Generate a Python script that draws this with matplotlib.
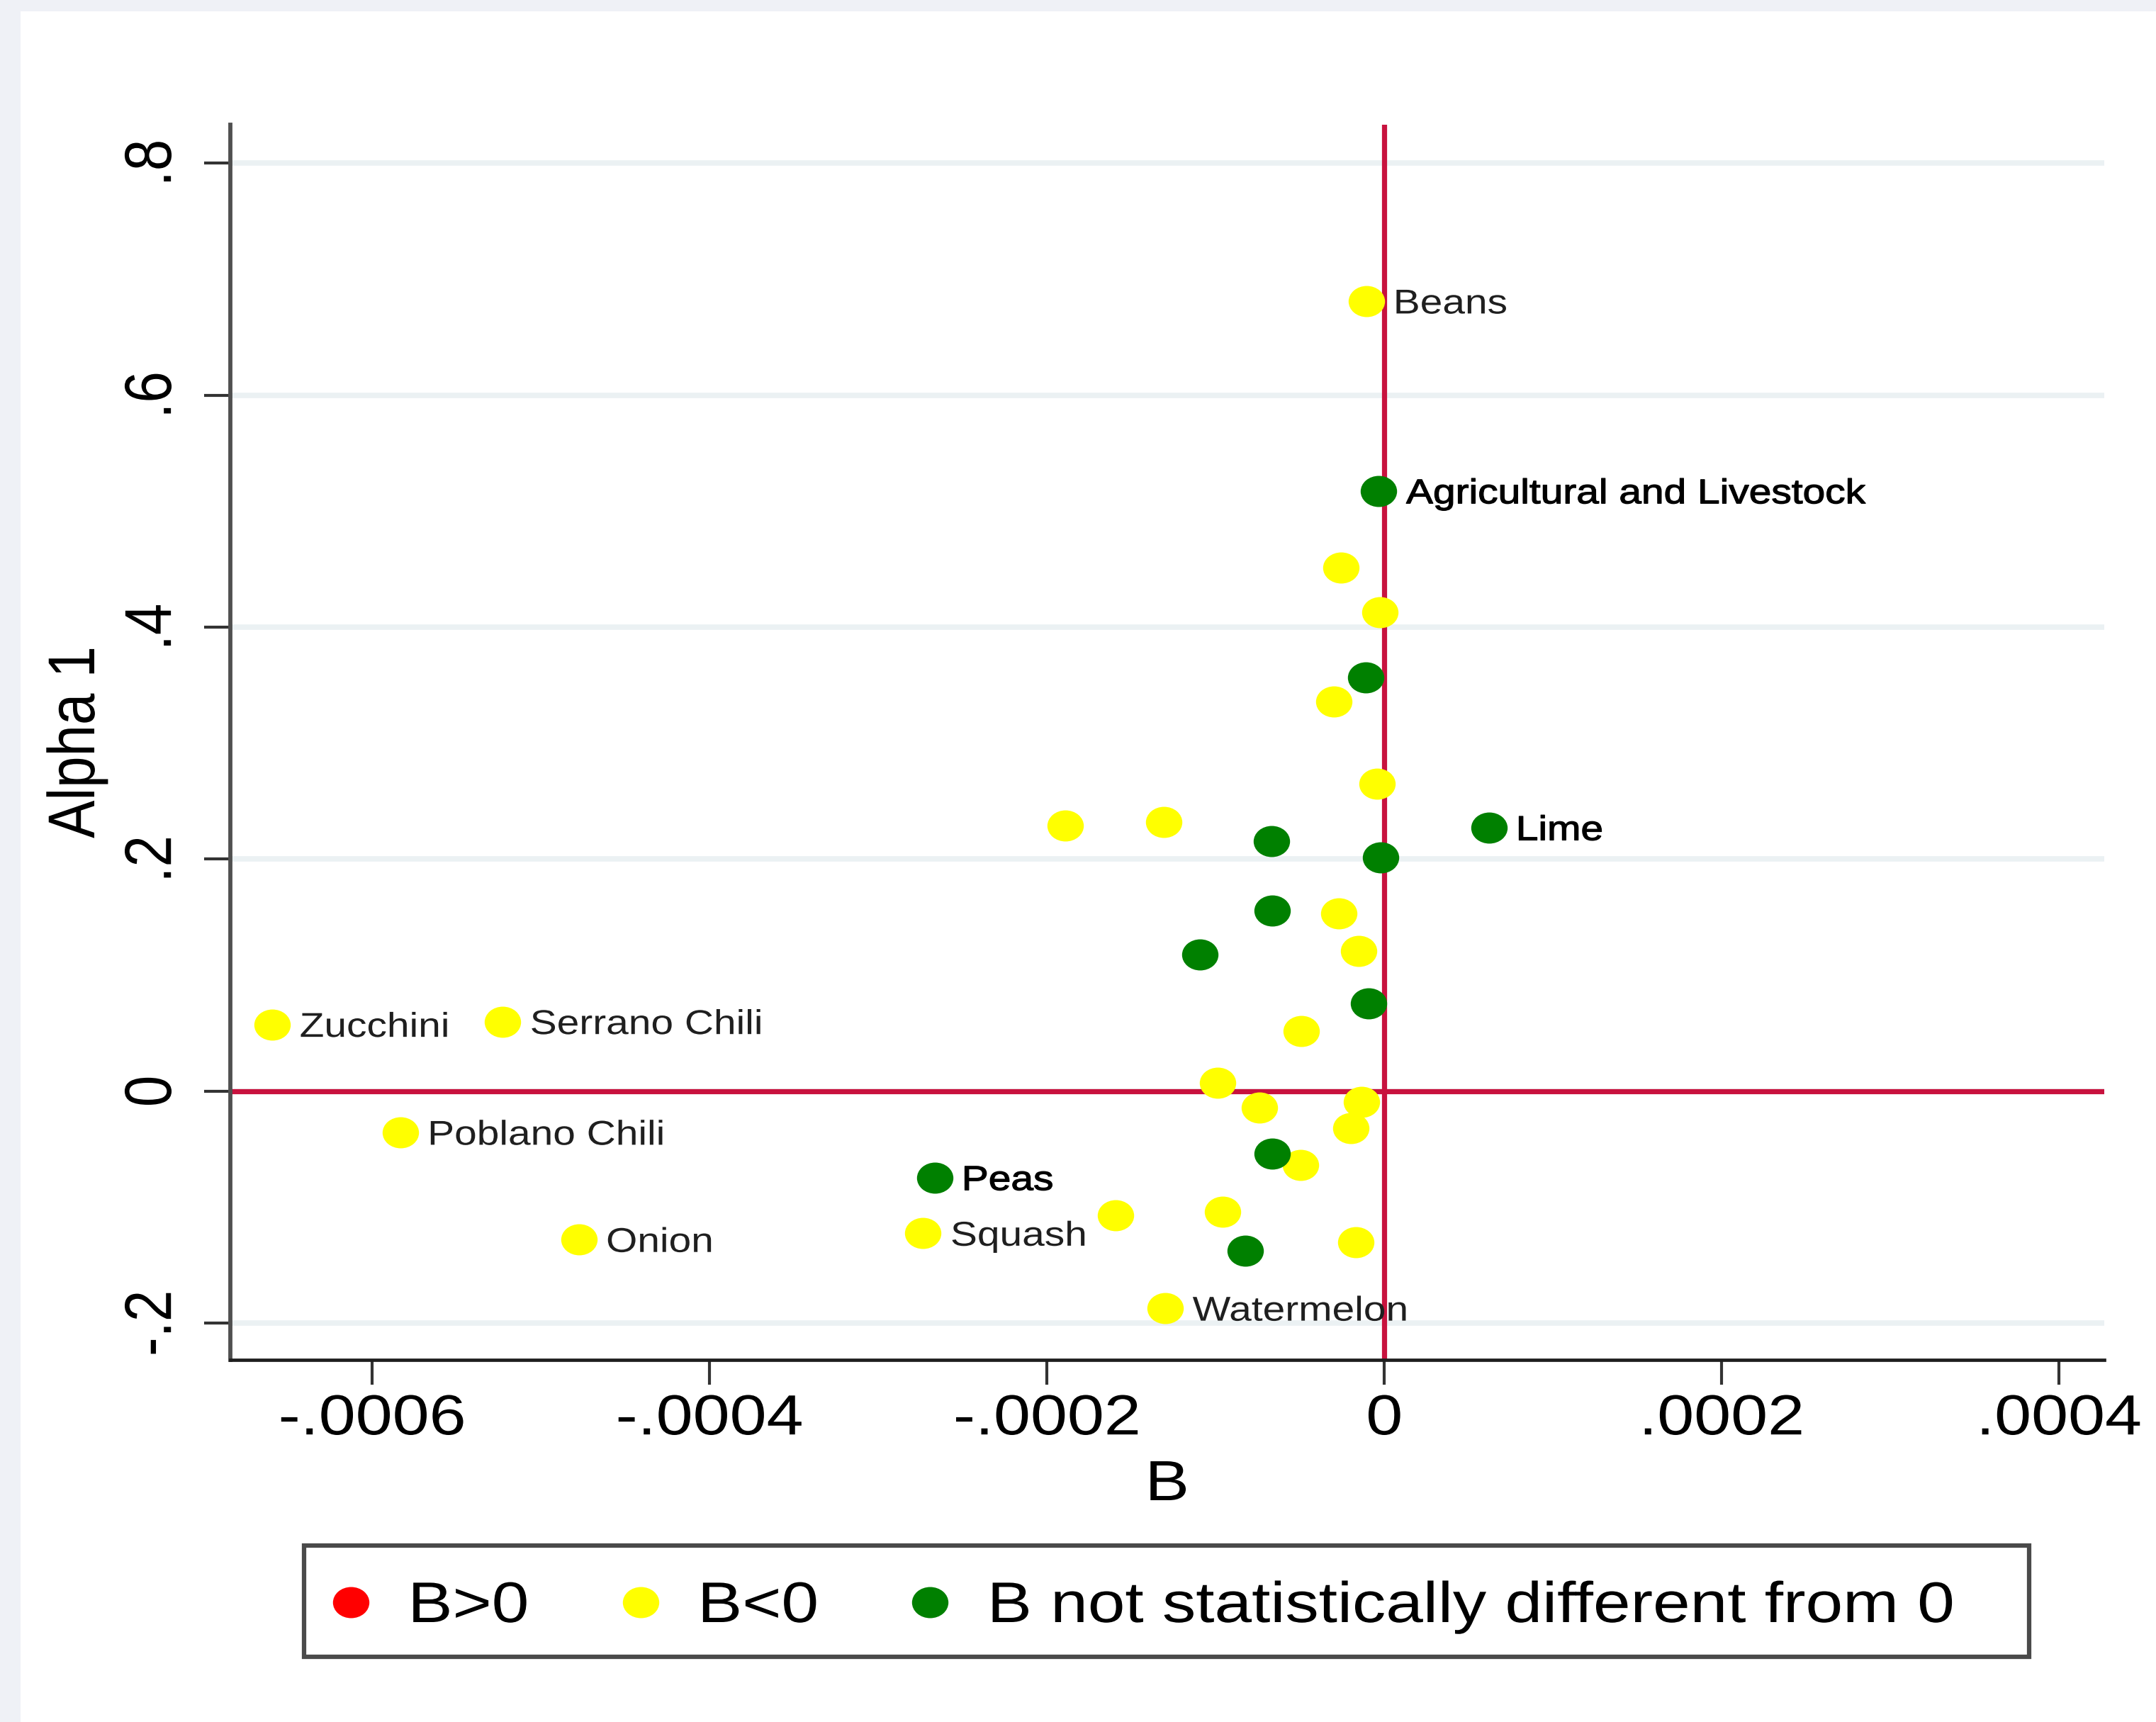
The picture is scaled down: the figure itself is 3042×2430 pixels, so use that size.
import numpy as np
import matplotlib
matplotlib.use("Agg")
import matplotlib.pyplot as plt
from matplotlib.path import Path
from matplotlib.transforms import Affine2D
from matplotlib import patheffects
from matplotlib.patches import Rectangle

# ---------------- data ----------------
# B < 0 (yellow)
neg_names = ["Beans", "", "", "", "", "", "", "", "", "",
             "Zucchini", "Serrano Chili", "", "", "", "", "",
             "Poblano Chili", "Onion", "Squash", "", "", "", "Watermelon"]
neg_b = [-0.0000108, -0.0000258, -0.0000026, -0.0000300, -0.0000045,
         -0.0001893, -0.0001306, -0.0000270, -0.0000154, -0.0000492,
         -0.0006592, -0.0005226, -0.0000990, -0.0000741, -0.0000135,
         -0.0000197, -0.0000495, -0.0005832, -0.0004775, -0.0002734,
         -0.0001592, -0.0000959, -0.0000169, -0.0001300]
neg_alpha = [0.681, 0.451, 0.413, 0.336, 0.265,
             0.229, 0.232, 0.153, 0.121, 0.052,
             0.0576, 0.0600, 0.0071, -0.0139, -0.0095,
             -0.032, -0.0636, -0.0354, -0.1278, -0.1224,
             -0.107, -0.104, -0.130, -0.187]

# B not statistically different from 0 (green)
ns_names = ["Agricultural and Livestock", "", "Lime", "", "", "", "", "",
            "", "Peas", ""]
ns_b = [-0.0000034, -0.0000112, 0.0000619, -0.0000671, -0.0000023,
        -0.0000664, -0.0001095, -0.0000093, -0.0000664, -0.0002666,
        -0.0000825]
ns_alpha = [0.5174, 0.3566, 0.2272, 0.2155, 0.2015,
            0.1559, 0.1176, 0.0756, -0.0539, -0.0744,
            -0.1372]

# B > 0 (red) -- no observations, legend entry only
pos_b = []
pos_alpha = []

legend_labels = ["B>0", "B<0", "B not statistically different from 0"]
xticks = [-0.0006, -0.0004, -0.0002, 0.0, 0.0002, 0.0004]
xtick_labels = ["-.0006", "-.0004", "-.0002", "0", ".0002", ".0004"]
yticks = [-0.2, 0.0, 0.2, 0.4, 0.6, 0.8]
ytick_labels = ["-.2", "0", ".2", ".4", ".6", ".8"]
x_title = "B"
y_title = "Alpha 1"

# ---------------- style ----------------
plt.rcParams["font.family"] = ["Liberation Sans", "DejaVu Sans"]
W, H = 3042, 2430
SX = 1.17            # horizontal stretch of the original rendering
BIG = 57.5
LEG = 58.2
SMALL = 35.0
YELLOW = "#ffff00"
GREEN = "#008000"
RED = "#ff0000"
CRANBERRY = "#c8123e"


class StretchX(patheffects.AbstractPathEffect):
    """Draw text stretched horizontally about an anchor (display coords)."""

    def __init__(self, anchor="center", sx=SX, stroke=0.0):
        super().__init__()
        self.anchor = anchor
        self.sx = sx
        self.stroke = stroke

    def draw_path(self, renderer, gc, tpath, affine, rgbFace=None):
        ext = tpath.get_extents(affine)
        if self.anchor == "left":
            cx = ext.x0
        elif self.anchor == "right":
            cx = ext.x1
        else:
            cx = 0.5 * (ext.x0 + ext.x1)
        tr = affine + Affine2D().translate(-cx, 0).scale(self.sx, 1.0).translate(cx, 0)
        gc0 = renderer.new_gc()
        gc0.copy_properties(gc)
        if self.stroke > 0 and rgbFace is not None:
            gc0.set_linewidth(self.stroke)
            gc0.set_foreground(rgbFace)
        renderer.draw_path(gc0, tpath, tr, rgbFace)
        gc0.restore()


ellipse = Affine2D().scale(SX, 1.0).transform_path(Path.unit_circle())
MS = 37.0 ** 2

fig = plt.figure(figsize=(W / 100, H / 100), dpi=100, facecolor="white")
# light outer band (left and top)
fig.patches.append(Rectangle((0, 0), 29 / W, 1, transform=fig.transFigure,
                             fc="#eff1f6", ec="none", zorder=0))
fig.patches.append(Rectangle((0, 1 - 16 / H), 1, 16 / H, transform=fig.transFigure,
                             fc="#eff1f6", ec="none", zorder=0))

left, right, top, bottom = 325, 2969, 176, 1919
ax = fig.add_axes([left / W, (H - bottom) / H, (right - left) / W, (bottom - top) / H])
ax.set_facecolor("white")
ax.set_xlim(-0.000684, 0.0004267)
ax.set_ylim(-0.2315, 0.833)

for s in ("top", "right"):
    ax.spines[s].set_visible(False)
ax.spines["left"].set_color("#505050")
ax.spines["left"].set_linewidth(4.2)
ax.spines["bottom"].set_color("#1e1e1e")
ax.spines["bottom"].set_linewidth(3.4)

ax.set_xticks(xticks, labels=xtick_labels)
ax.set_yticks(yticks, labels=ytick_labels)
ax.tick_params(axis="x", length=25, width=3, color="#333333", pad=9,
               labelsize=BIG, labelcolor="black")
ax.tick_params(axis="y", length=26.5, width=3, color="#333333", pad=25,
               labelsize=BIG, labelcolor="black", labelrotation=90)
for lbl in ax.get_yticklabels():
    lbl.set_va("center")
    lbl.set_path_effects([StretchX("center")])
for lbl in ax.get_xticklabels():
    lbl.set_path_effects([StretchX("center")])

ax.yaxis.grid(True, color="#ebf1f3", linewidth=5.5)
ax.xaxis.grid(False)
ax.set_axisbelow(True)

ax.axhline(0, color=CRANBERRY, linewidth=5.2, zorder=1.5)
ax.axvline(0, color=CRANBERRY, linewidth=5.2, zorder=1.5)

sc_red = ax.scatter(pos_b, pos_alpha, s=MS, marker=ellipse, color=RED,
                    linewidths=0, zorder=2)
sc_yel = ax.scatter(neg_b, neg_alpha, s=MS, marker=ellipse, color=YELLOW,
                    linewidths=0, zorder=2.1)
sc_grn = ax.scatter(ns_b, ns_alpha, s=MS, marker=ellipse, color=GREEN,
                    linewidths=0, zorder=2.2)

for name, xv, yv in zip(neg_names, neg_b, neg_alpha):
    if name:
        ax.annotate(name, (xv, yv), xytext=(28, 0), textcoords="offset points",
                    ha="left", va="center_baseline", fontsize=SMALL, color="#1f1f1f",
                    zorder=3, path_effects=[StretchX("left")])
for name, xv, yv in zip(ns_names, ns_b, ns_alpha):
    if name:
        ax.annotate(name, (xv, yv), xytext=(28, 0), textcoords="offset points",
                    ha="left", va="center_baseline", fontsize=SMALL, color="black",
                    zorder=3, path_effects=[StretchX("left", stroke=0.9)])

xl = ax.set_xlabel(x_title, fontsize=BIG, va="baseline")
ax.xaxis.set_label_coords(0.5, -(2117 - bottom) / (bottom - top))
xl.set_path_effects([StretchX("center")])
yl = ax.set_ylabel(y_title, fontsize=BIG, va="center", ha="center")
ax.yaxis.set_label_coords((109 - left) / (right - left), 0.5)
yl.set_path_effects([StretchX("center")])

# legend box
fig.patches.append(Rectangle((429 / W, 1 - 2338 / H), (2863 - 429) / W, (2338 - 2181) / H,
                             transform=fig.transFigure, fc="white", ec="#4a4a4a",
                             lw=4.5, zorder=1))
leg = fig.legend([sc_red, sc_yel, sc_grn], legend_labels, loc="center left",
                 bbox_to_anchor=(454.5 / W, 1 - 2268 / H), bbox_transform=fig.transFigure,
                 ncol=3, frameon=False, borderpad=0, borderaxespad=0,
                 handlelength=1.0, handletextpad=0.51, columnspacing=1.74,
                 fontsize=LEG, scatterpoints=1, scatteryoffsets=[0.5])
leg.set_zorder(5)
for t in leg.get_texts():
    t.set_path_effects([StretchX("left")])

fig.savefig("out.png", dpi=100, facecolor="white")
